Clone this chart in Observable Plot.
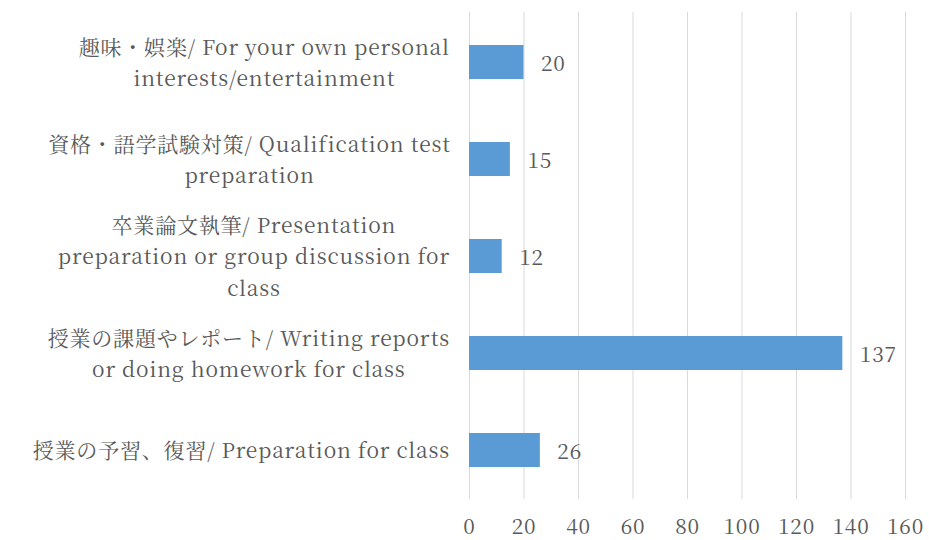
<!DOCTYPE html>
<html>
<head>
<meta charset="utf-8">
<script src="https://cdn.jsdelivr.net/npm/d3@7"></script>
<script src="https://cdn.jsdelivr.net/npm/@observablehq/plot@0.6"></script>
<style>
  html, body { margin: 0; padding: 0; background: #fff; }
  svg text { font-family: "Noto Serif CJK JP", "Noto Sans CJK JP", serif; letter-spacing: 0.8px; }
</style>
</head>
<body>
<div id="chart"></div>
<script>
const categories = [
  "趣味・娯楽/ For your own personal\ninterests/entertainment",
  "資格・語学試験対策/ Qualification test\npreparation",
  "卒業論文執筆/ Presentation\npreparation or group discussion for\nclass",
  "授業の課題やレポート/ Writing reports\nor doing homework for class",
  "授業の予習、復習/ Preparation for class"
];
const values = [20, 15, 12, 137, 26];
const xTicks = [0, 20, 40, 60, 80, 100, 120, 140, 160];

const data = categories.map((c, i) => ({category: c, value: values[i]}));

const FONT_FAMILY = '"Noto Serif CJK JP", "Noto Sans CJK JP", serif';
const FONT_SIZE = 21;
const LETTER_SPACING = 0.8;
const TEXT_COLOR = "#595959";
const W = 929, H = 540;
const marginLeft = 469, marginRight = 24, marginTop = 12, marginBottom = 41;
const labelRight = 449;

const ctx = document.createElement("canvas").getContext("2d");
ctx.font = `${FONT_SIZE}px ${FONT_FAMILY}`;
function blockWidth(label) {
  return d3.max(label.split("\n"), l => ctx.measureText(l).width + LETTER_SPACING * (l.length - 1));
}

const labelMarks = categories.map(c => {
  const w = blockWidth(c);
  const cx = labelRight - w / 2;
  return Plot.text([c], {
    y: d => d,
    text: d => d,
    frameAnchor: "left",
    textAnchor: "middle",
    dx: cx - marginLeft,
    lineHeight: 1.48,
    dy: -2,
    fill: TEXT_COLOR,
    fontSize: FONT_SIZE,
    fontFamily: FONT_FAMILY
  });
});

const chart = Plot.plot({
  width: W,
  height: H,
  marginLeft, marginRight, marginTop, marginBottom,
  style: {fontFamily: FONT_FAMILY, fontSize: FONT_SIZE + "px", color: TEXT_COLOR, background: "#fff"},
  x: {domain: [0, 160], ticks: xTicks},
  y: {domain: categories, paddingInner: 0.65, paddingOuter: 0.325, axis: null},
  marks: [
    Plot.gridX(xTicks, {stroke: "#d9d9d9", strokeOpacity: 1, strokeWidth: 1}),
    Plot.barX(data, {y: "category", x: "value", fill: "#5b9bd5"}),
    Plot.text(data, {y: "category", x: "value", text: d => String(d.value), textAnchor: "start", dx: 17, dy: 2, fill: TEXT_COLOR, fontSize: FONT_SIZE, fontFamily: FONT_FAMILY}),
    Plot.axisX(xTicks, {tickSize: 0, tickPadding: 20, fill: TEXT_COLOR, fontSize: FONT_SIZE, fontFamily: FONT_FAMILY, label: null}),
    ...labelMarks
  ]
});
document.getElementById("chart").appendChild(chart);
</script>
</body>
</html>
